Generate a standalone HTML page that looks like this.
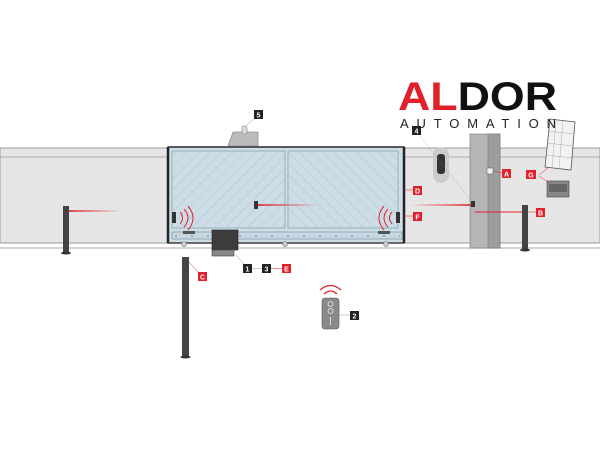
<!DOCTYPE html>
<html><head><meta charset="utf-8"><style>
html,body{margin:0;padding:0;background:#fff;width:600px;height:450px;overflow:hidden}
svg{display:block}
.lb{font-family:"Liberation Sans",sans-serif;font-size:7px;font-weight:bold;fill:#fff;text-anchor:middle}
</style></head><body>
<svg width="600" height="450" viewBox="0 0 600 450" xmlns="http://www.w3.org/2000/svg">
<defs>
<pattern id="h1" width="8" height="8" patternUnits="userSpaceOnUse" patternTransform="rotate(45)"><line x1="0" y1="0" x2="0" y2="8" stroke="#9fb0bb" stroke-width="0.6"/></pattern>
<pattern id="h2" width="8" height="8" patternUnits="userSpaceOnUse" patternTransform="rotate(-45)"><line x1="0" y1="0" x2="0" y2="8" stroke="#9fb0bb" stroke-width="0.6"/></pattern>
<linearGradient id="g1" gradientUnits="userSpaceOnUse" x1="69" y1="0" x2="122" y2="0"><stop offset="0" stop-color="#e0202a"/><stop offset="1" stop-color="#e0202a" stop-opacity="0"/></linearGradient>
<linearGradient id="g2" gradientUnits="userSpaceOnUse" x1="258" y1="0" x2="320" y2="0"><stop offset="0" stop-color="#e0202a"/><stop offset="1" stop-color="#e0202a" stop-opacity="0"/></linearGradient>
<linearGradient id="g3" gradientUnits="userSpaceOnUse" x1="471" y1="0" x2="410" y2="0"><stop offset="0" stop-color="#e0202a"/><stop offset="1" stop-color="#e0202a" stop-opacity="0"/></linearGradient>
</defs>
<!-- walls -->
<rect x="0" y="148" width="600" height="95" fill="#e6e6e6" stroke="#9a9a9a" stroke-width="1"/>
<line x1="0" y1="157" x2="600" y2="157" stroke="#9a9a9a" stroke-width="0.8"/>
<line x1="0" y1="248" x2="600" y2="248" stroke="#bbb" stroke-width="1.2"/>
<!-- gate -->
<rect x="168" y="147" width="236" height="96" fill="#cddde8" stroke="#444" stroke-width="1.2"/>
<line x1="168" y1="147" x2="168" y2="243" stroke="#222" stroke-width="2.5"/>
<line x1="404" y1="147" x2="404" y2="243" stroke="#222" stroke-width="2.5"/>
<line x1="168" y1="147" x2="404" y2="147" stroke="#333" stroke-width="1.5"/>
<line x1="168" y1="243" x2="404" y2="243" stroke="#333" stroke-width="1.2"/>
<rect x="172" y="151" width="113" height="77" fill="url(#h1)" stroke="#8aa" stroke-width="0.8"/>
<rect x="288" y="151" width="110" height="77" fill="url(#h2)" stroke="#8aa" stroke-width="0.8"/>
<rect x="172" y="232" width="230" height="7" fill="#c7d8e3" stroke="#789" stroke-width="0.6"/>
<line x1="175" y1="236" x2="400" y2="236" stroke="#556" stroke-width="0.8" stroke-dasharray="2,14"/>
<g fill="#ccc" stroke="#777" stroke-width="0.6"><circle cx="184" cy="244" r="2.5"/><circle cx="285" cy="244" r="2.5"/><circle cx="386" cy="244" r="2.5"/></g>
<!-- top box -->
<polygon points="228,146 233,132 258,132 258,146" fill="#bbb" stroke="#777" stroke-width="0.6"/>
<rect x="242" y="126" width="5" height="8" rx="2" fill="#ddd" stroke="#777" stroke-width="0.6"/>
<line x1="246" y1="126" x2="256" y2="117" stroke="#888" stroke-width="0.5"/>
<!-- photocell in gate -->
<rect x="254" y="201" width="4" height="8" fill="#333"/>
<rect x="258" y="204.2" width="62" height="1.6" fill="url(#g2)"/>
<!-- edge sensors -->
<rect x="172" y="212" width="4" height="11" fill="#333"/>
<rect x="396" y="212" width="4" height="11" fill="#333"/>
<g fill="none" stroke="#e0202a" stroke-width="1">
<path d="M180,212 q5,6 0,12"/><path d="M184,209 q8,9 0,18"/><path d="M188,206 q10,12 0,24"/>
<path d="M392,212 q-5,6 0,12"/><path d="M388,209 q-8,9 0,18"/><path d="M384,206 q-10,12 0,24"/>
</g>
<rect x="183" y="231" width="12" height="3" fill="#555"/><rect x="378" y="231" width="12" height="3" fill="#555"/>
<!-- motor -->
<rect x="212" y="230" width="26" height="20" fill="#3c3c3c" stroke="#222" stroke-width="0.6"/>
<rect x="212" y="250" width="22" height="6" fill="#888" stroke="#444" stroke-width="0.6"/>
<line x1="236" y1="255" x2="246" y2="266" stroke="#888" stroke-width="0.5"/>
<!-- left post -->
<rect x="63" y="206" width="6" height="47" fill="#444"/><ellipse cx="66" cy="253" rx="5" ry="1.5" fill="#333"/>
<rect x="69" y="210.2" width="53" height="1.6" fill="url(#g1)"/>
<!-- post C -->
<rect x="182" y="257" width="7" height="100" fill="#444"/><ellipse cx="185.5" cy="357" rx="5" ry="1.5" fill="#333"/>
<line x1="189" y1="262" x2="198" y2="272" stroke="#e0202a" stroke-width="0.5"/>
<!-- pillar -->
<rect x="470" y="134" width="30" height="114" fill="#b5b5b5" stroke="#777" stroke-width="0.6"/>
<rect x="488" y="134" width="12" height="114" fill="#9d9d9d" stroke="#777" stroke-width="0.6"/>
<rect x="487" y="168" width="6" height="6" fill="#eee" stroke="#555" stroke-width="0.5"/>
<rect x="471" y="201" width="4" height="6" fill="#333"/>
<rect x="410" y="204.2" width="61" height="1.6" fill="url(#g3)"/>
<line x1="475" y1="212" x2="523" y2="212" stroke="#e0202a" stroke-width="1"/>
<!-- post B -->
<rect x="522" y="205" width="6" height="45" fill="#444"/><ellipse cx="525" cy="250" rx="5" ry="1.5" fill="#333"/>
<!-- intercom -->
<rect x="433" y="147" width="16" height="36" rx="8" fill="#ccc"/>
<rect x="437" y="154" width="8" height="20" rx="3" fill="#333"/>
<line x1="420" y1="136" x2="472" y2="202" stroke="#999" stroke-width="0.5" stroke-dasharray="1,1"/>
<!-- solar panel -->
<polygon points="550,119 575,122 571,170 545,167" fill="#f2f2f2" stroke="#555" stroke-width="0.8"/>
<g stroke="#999" stroke-width="0.4"><line x1="548" y1="131" x2="574" y2="134"/><line x1="547" y1="143" x2="573" y2="146"/><line x1="546" y1="155" x2="572" y2="158"/><line x1="556" y1="120" x2="552" y2="168"/><line x1="563" y1="121" x2="559" y2="169"/></g>
<!-- battery -->
<rect x="547" y="181" width="22" height="16" fill="#888" stroke="#444" stroke-width="0.6"/>
<rect x="549" y="184" width="18" height="8" fill="#666"/>
<line x1="539" y1="175" x2="549" y2="167" stroke="#e0202a" stroke-width="0.5"/><line x1="539" y1="176" x2="548" y2="182" stroke="#e0202a" stroke-width="0.5"/>
<!-- remote -->
<rect x="322" y="298" width="17" height="31" rx="3" fill="#8a8a8a" stroke="#555" stroke-width="0.6"/>
<circle cx="330.5" cy="304" r="2.5" fill="none" stroke="#eee" stroke-width="0.8"/><circle cx="330.5" cy="311" r="2.5" fill="none" stroke="#eee" stroke-width="0.8"/>
<line x1="330.5" y1="317" x2="330.5" y2="325" stroke="#eee" stroke-width="0.8"/>
<g fill="none" stroke="#e0202a" stroke-width="1.2"><path d="M324,294 q6.5,-6 13,0"/><path d="M320,290 q10.5,-9 21,0"/></g>
<line x1="339" y1="315" x2="350" y2="315" stroke="#999" stroke-width="0.5"/>
<!-- connector lines -->
<line x1="404" y1="190" x2="413" y2="190" stroke="#e0202a" stroke-width="0.5"/>
<line x1="404" y1="216" x2="413" y2="216" stroke="#e0202a" stroke-width="0.5"/>
<line x1="494" y1="171" x2="502" y2="173" stroke="#e0202a" stroke-width="0.5"/>
<line x1="528" y1="212" x2="536" y2="212" stroke="#e0202a" stroke-width="0.5"/>
<!-- labels -->
<g>
<rect x="254" y="110" width="9" height="9" fill="#222"/><text class="lb" x="258.5" y="117.5">5</text>
<rect x="412" y="126" width="9" height="9" fill="#222"/><text class="lb" x="416.5" y="133.5">4</text>
<rect x="502" y="169" width="9" height="9" fill="#e0202a"/><text class="lb" x="506.5" y="176.5">A</text>
<rect x="526" y="170" width="10" height="9" fill="#e0202a"/><text class="lb" x="531" y="177.5">G</text>
<rect x="536" y="208" width="9" height="9" fill="#e0202a"/><text class="lb" x="540.5" y="215.5">B</text>
<rect x="413" y="186" width="9" height="9" fill="#e0202a"/><text class="lb" x="417.5" y="193.5">D</text>
<rect x="413" y="212" width="9" height="9" fill="#e0202a"/><text class="lb" x="417.5" y="219.5">F</text>
<rect x="198" y="272" width="9" height="9" fill="#e0202a"/><text class="lb" x="202.5" y="279.5">C</text>
<rect x="243" y="264" width="9" height="9" fill="#222"/><text class="lb" x="247.5" y="271.5">1</text>
<rect x="262" y="264" width="9" height="9" fill="#222"/><text class="lb" x="266.5" y="271.5">3</text>
<rect x="282" y="264" width="9" height="9" fill="#e0202a"/><text class="lb" x="286.5" y="271.5">E</text>
<line x1="252" y1="268.5" x2="262" y2="268.5" stroke="#999" stroke-width="0.5"/><line x1="271" y1="268.5" x2="282" y2="268.5" stroke="#e0202a" stroke-width="0.5"/>
<rect x="350" y="311" width="9" height="9" fill="#222"/><text class="lb" x="354.5" y="318.5">2</text>
</g>
<!-- logo -->
<text x="398" y="110" font-family="Liberation Sans,sans-serif" font-weight="bold" font-size="40" textLength="159" lengthAdjust="spacingAndGlyphs"><tspan fill="#e0202a">AL</tspan><tspan fill="#111">DOR</tspan></text>
<text x="400" y="128" font-family="Liberation Sans,sans-serif" font-size="13" fill="#222" textLength="156" lengthAdjust="spacing">AUTOMATION</text>
</svg>
</body></html>
